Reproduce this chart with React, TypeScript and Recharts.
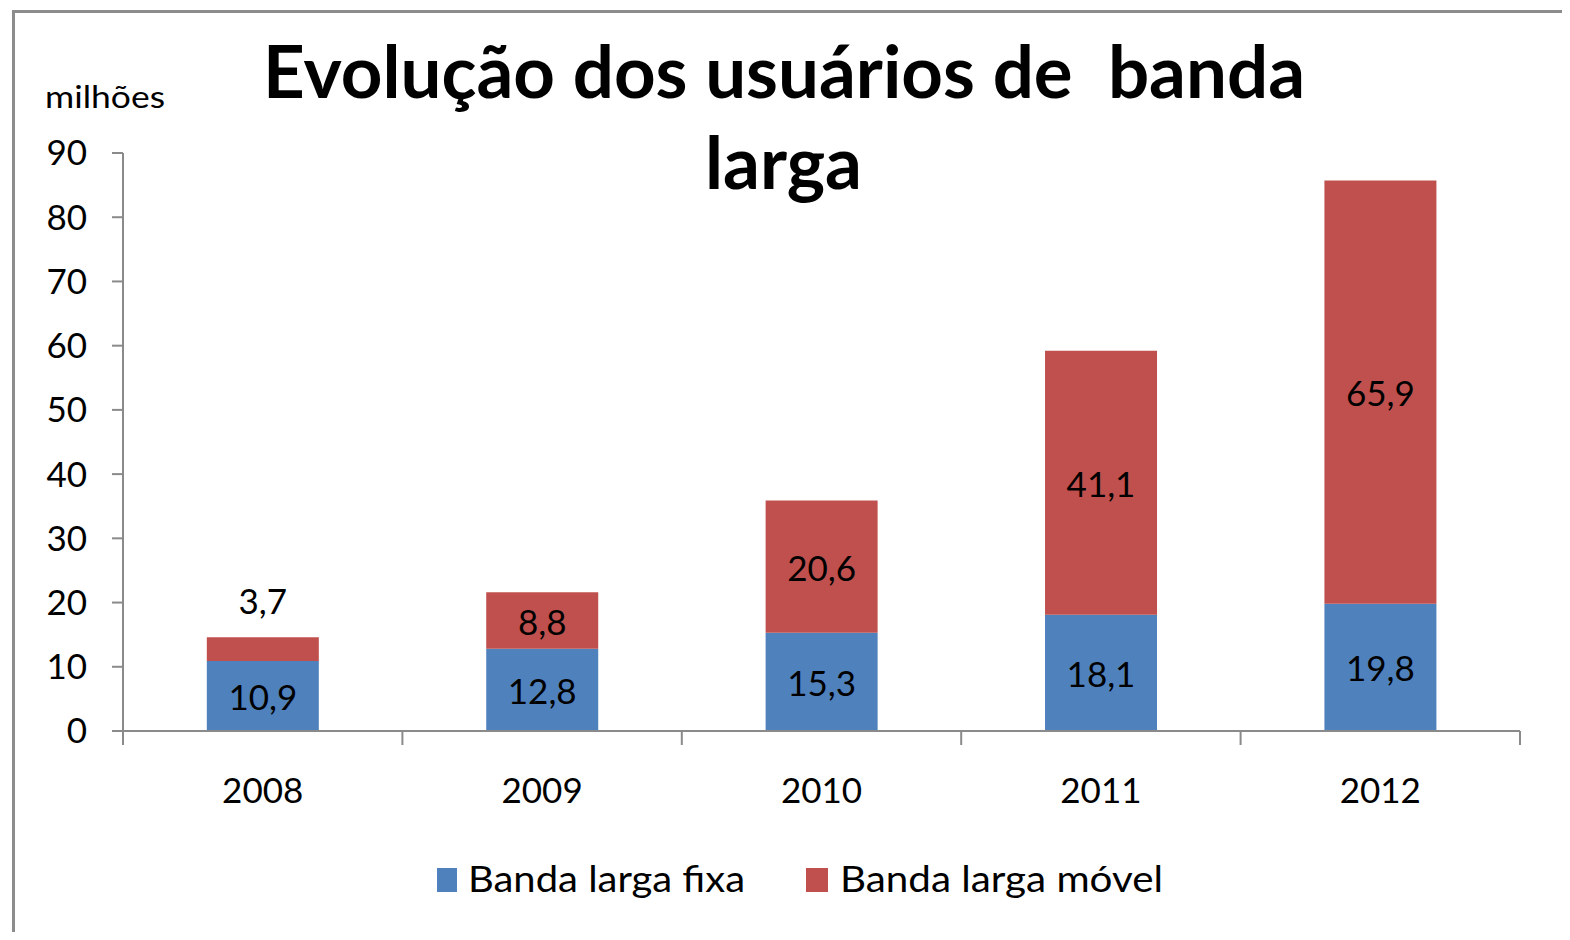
import React from 'react';
import { BarChart, Bar, XAxis, YAxis, Legend, LabelList } from 'recharts';

const CATEGORIES = ['2008', '2009', '2010', '2011', '2012'];
const FIXA = [10.9, 12.8, 15.3, 18.1, 19.8];
const MOVEL = [3.7, 8.8, 20.6, 41.1, 65.9];
const Y_TICKS = [0, 10, 20, 30, 40, 50, 60, 70, 80, 90];
const EDGE_TICKS = [0, 1, 2, 3, 4, 5];

const FONT = 'Lato, "Open Sans", sans-serif';
const AXIS_GRAY = '#8a8a8a';
const BLUE = '#4F81BD';
const RED = '#C0504D';

const data = CATEGORIES.map((year, i) => ({ year, fixa: FIXA[i], movel: MOVEL[i] }));

const fmt = (v: number) => v.toFixed(1).replace('.', ',');

// small segments get their label above the bar, like Excel does
function SegmentLabel(props: any) {
  const { x, y, width, height, value } = props;
  const cx = x + width / 2;
  const small = height < 40;
  const cy = small ? y - 37 : y + height / 2;
  return (
    <text x={cx} y={cy} textAnchor="middle" dominantBaseline="central" fontSize={35} fill="#000" fontFamily={FONT}>
      {fmt(value)}
    </text>
  );
}

// legend item spots, in svg coords of the legend box
const LEGEND_SPOTS = [
  { rx: 437, rw: 20, tx: 468, tw: 277 },
  { rx: 806, rw: 22, tx: 840, tw: 323 },
];

function LegendContent(props: any) {
  const payload = props.payload || [];
  return (
    <svg width={1570} height={56} style={{ display: 'block', overflow: 'visible' }}>
      {payload.map((p: any, i: number) => {
        const s = LEGEND_SPOTS[i];
        if (!s) return null;
        return (
          <g key={p.value}>
            <rect x={s.rx} y={10} width={s.rw} height={24} fill={p.color} />
            <text
              x={s.tx}
              y={34}
              fontSize={36}
              fontFamily={FONT}
              fill="#000"
              textLength={s.tw}
              lengthAdjust="spacingAndGlyphs"
            >
              {p.value}
            </text>
          </g>
        );
      })}
    </svg>
  );
}

export default function App() {
  return (
    <div style={{ position: 'relative', width: 1570, height: 940, margin: -8, overflow: 'hidden', background: '#fff' }}>
      <div
        style={{
          position: 'absolute',
          left: 12,
          top: 10,
          width: 1552,
          height: 1000,
          borderTop: '3px solid #8c8c8c',
          borderLeft: '3px solid #8c8c8c',
          borderRight: '3px solid #8c8c8c',
        }}
      />
      <div style={{ position: 'absolute', left: 0, top: 0 }}>
        <BarChart
          width={1570}
          height={940}
          data={data}
          margin={{ top: 153, right: 50, bottom: 128, left: 43 }}
          barCategoryGap="30%"
          style={{ fontFamily: FONT }}
        >
          {/* boundary ticks between categories, sits right on the plot bottom */}
          <XAxis
            xAxisId={0}
            type="number"
            dataKey="edge"
            domain={[0, 5]}
            ticks={EDGE_TICKS}
            interval={0}
            allowDataOverflow
            tickFormatter={() => ''}
            tick={{ fontSize: 1 }}
            tickSize={14}
            height={1}
            axisLine={{ stroke: AXIS_GRAY, strokeWidth: 2 }}
            tickLine={{ stroke: AXIS_GRAY, strokeWidth: 2 }}
          />
          <XAxis
            xAxisId={1}
            dataKey="year"
            axisLine={false}
            tickLine={false}
            tickSize={0}
            tickMargin={46}
            height={80}
            tick={{ fontSize: 35, fill: '#000' }}
          />
          <YAxis
            domain={[0, 90]}
            ticks={Y_TICKS}
            width={80}
            tickSize={11}
            tickMargin={25}
            axisLine={{ stroke: AXIS_GRAY, strokeWidth: 2 }}
            tickLine={{ stroke: AXIS_GRAY, strokeWidth: 2 }}
            tick={{ fontSize: 35, fill: '#000' }}
          />
          <Legend
            layout="horizontal"
            verticalAlign="middle"
            align="center"
            wrapperStyle={{ top: 858, left: 0, width: 1570 }}
            content={LegendContent}
          />
          <Bar dataKey="fixa" name="Banda larga fixa" stackId="a" xAxisId={1} fill={BLUE} isAnimationActive={false}>
            <LabelList dataKey="fixa" content={SegmentLabel} />
          </Bar>
          <Bar dataKey="movel" name="Banda larga móvel" stackId="a" xAxisId={1} fill={RED} isAnimationActive={false}>
            <LabelList dataKey="movel" content={SegmentLabel} />
          </Bar>
        </BarChart>
      </div>
      <svg width={1570} height={940} style={{ position: 'absolute', left: 0, top: 0, pointerEvents: 'none' }}>
        <text
          x={263}
          y={98}
          fontSize={72}
          fontWeight={700}
          fontFamily={FONT}
          fill="#000"
          textLength={1042}
          lengthAdjust="spacingAndGlyphs"
          style={{ whiteSpace: 'pre' }}
        >
          {'Evolução dos usuários de  banda'}
        </text>
        <text
          x={705}
          y={189}
          fontSize={72}
          fontWeight={700}
          fontFamily={FONT}
          fill="#000"
          textLength={157}
          lengthAdjust="spacingAndGlyphs"
        >
          larga
        </text>
        <text
          x={45}
          y={108}
          fontSize={31}
          fontFamily={FONT}
          fill="#000"
          textLength={120}
          lengthAdjust="spacingAndGlyphs"
        >
          milhões
        </text>
      </svg>
    </div>
  );
}
